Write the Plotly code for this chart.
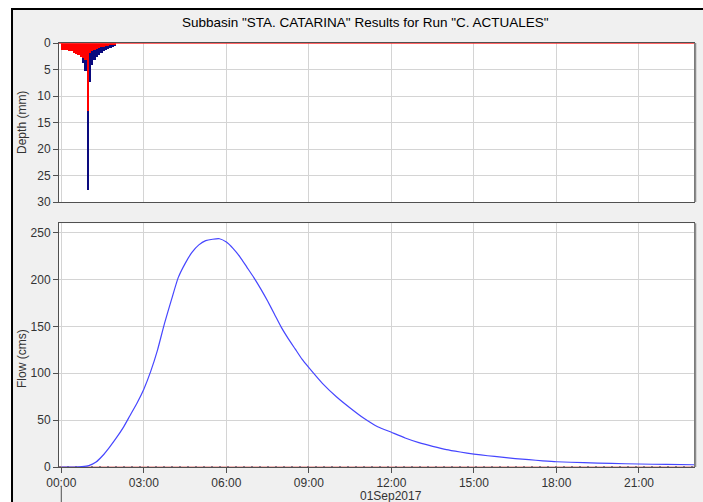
import pandas as pd
import plotly.graph_objects as go

# ---- data -----------------------------------------------------------------
# 5-minute precipitation and loss depths (mm), one value per interval from 00:00
precip_mm = [1.25, 1.3, 1.35, 1.45, 1.6, 1.8, 2.05, 2.3, 2.7, 3.7, 5.2, 27.8,
             7.3, 4.2, 3.2, 2.6, 2.2, 1.9, 1.6, 1.3, 1.1, 0.9, 0.7, 0.5]
loss_mm = [1.25, 1.3, 1.35, 1.45, 1.6, 1.8, 2.05, 2.3, 2.6, 2.9, 3.3, 12.9,
           1.8, 1.5, 1.25, 1.05, 0.9, 0.8, 0.7, 0.6, 0.5, 0.45, 0.4, 0.3]

# outflow hydrograph (cms)
flow_times = ["00:00", "00:30", "00:45", "01:00", "01:15", "01:30", "01:45", "02:00",
              "02:15", "02:30", "02:45", "03:00", "03:15", "03:30", "03:45", "04:00",
              "04:15", "04:30", "04:45", "05:00", "05:15", "05:30", "05:45", "06:00",
              "06:15", "06:30", "06:45", "07:00", "07:15", "07:30", "07:45", "08:00",
              "08:15", "08:30", "08:45", "09:00", "09:30", "10:00", "10:30", "11:00",
              "11:30", "12:00", "12:30", "13:00", "13:30", "14:00", "14:30", "15:00",
              "15:30", "16:00", "16:30", "17:00", "17:30", "18:00", "19:00", "20:00",
              "21:00", "22:00", "23:00"]
flow_cms = [0, 0, 0.4, 1.5, 5, 12, 21, 31,
            42, 55, 68, 83, 102, 125, 153, 178,
            202, 217, 229, 237, 241.5, 243, 243.5, 240,
            233, 224, 213, 202, 190, 177, 163, 149,
            137, 126, 115, 106, 89, 75, 63, 52,
            43, 37, 31, 26, 22, 18.5, 16, 13.8,
            12, 10.5, 9, 7.8, 6.6, 5.6, 4.6, 3.8,
            3.2, 2.7, 2.4]

day = "2017-09-01"
x_start = "2017-08-31 23:55"
x_end = "2017-09-01 23:00"
tick_times = ["00:00", "03:00", "06:00", "09:00", "12:00", "15:00", "18:00", "21:00"]

# ---- derived axes values --------------------------------------------------
step_ms = 5 * 60 * 1000
interval_end = pd.date_range(f"{day} 00:05", periods=len(precip_mm), freq="5min")
flow_x = [f"{day} {t}" for t in flow_times]
tick_vals = [f"{day} {t}" for t in tick_times]

FONT = "Liberation Sans, Arial, sans-serif"
GRID = "#D4D4D4"
AXIS = "#505050"

fig = go.Figure()

# precipitation (dark blue) with loss (red) drawn over it
fig.add_trace(go.Bar(x=interval_end, y=precip_mm, width=step_ms, offset=-step_ms,
                     marker=dict(color="#0A0A7E", line=dict(width=0)),
                     xaxis="x", yaxis="y", name="Precipitation"))
fig.add_trace(go.Bar(x=interval_end, y=loss_mm, width=step_ms, offset=-step_ms,
                     marker=dict(color="#FF0000", line=dict(width=0)),
                     xaxis="x", yaxis="y", name="Loss"))
fig.add_trace(go.Scatter(x=[x_start, x_end], y=[0, 0], mode="lines",
                         line=dict(color="#FF3030", width=1.5),
                         xaxis="x", yaxis="y", name="Loss line"))

# outflow
fig.add_trace(go.Scatter(x=[x_start, x_end], y=[0, 0], mode="lines",
                         line=dict(color="#E07070", width=1),
                         xaxis="x2", yaxis="y2", name="Baseflow"))
fig.add_trace(go.Scatter(x=[x_start, x_end], y=[0, 0], mode="lines",
                         line=dict(color="#303050", width=1, dash="2px,6px"),
                         xaxis="x2", yaxis="y2", name="Observed"))
fig.add_trace(go.Scatter(x=flow_x, y=flow_cms, mode="lines",
                         line=dict(color="#4646FF", width=1.2, shape="spline", smoothing=0.5),
                         xaxis="x2", yaxis="y2", name="Outflow"))

common_x = dict(type="date", range=[x_start, x_end], tickvals=tick_vals,
                tickformat="%H:%M", showgrid=True, gridcolor=GRID, gridwidth=1,
                zeroline=False, showline=True, linecolor=AXIS, linewidth=1, mirror=True)

fig.update_layout(
    width=703, height=502,
    margin=dict(l=59, r=9, t=43, b=35),
    paper_bgcolor="white",
    plot_bgcolor="white",
    showlegend=False,
    barmode="overlay",
    bargap=0,
    font=dict(family=FONT, size=12, color="#333333"),
    xaxis=dict(common_x, domain=[0, 1], anchor="y", showticklabels=False, ticks=""),
    yaxis=dict(domain=[0.625, 1], range=[30, 0], tickvals=[0, 5, 10, 15, 20, 25, 30],
               ticks="outside", ticklen=5, tickcolor=AXIS, showgrid=True, gridcolor=GRID,
               zeroline=False, showline=True, linecolor=AXIS, linewidth=1, mirror=True,
               anchor="x"),
    xaxis2=dict(common_x, domain=[0, 1], anchor="y2", matches="x",
                ticks="outside", ticklen=5, tickcolor=AXIS),
    yaxis2=dict(domain=[0, 0.5748], range=[0, 260], tickvals=[0, 50, 100, 150, 200, 250],
                ticks="outside", ticklen=5, tickcolor=AXIS, showgrid=True, gridcolor=GRID,
                zeroline=False, showline=True, linecolor=AXIS, linewidth=1, mirror=True,
                anchor="x2"),
)

# window frame and panel backgrounds
fig.add_shape(type="rect", xref="paper", yref="paper", x0=-0.074, x1=1.2, y0=-0.3, y1=1.0802,
              fillcolor="#F0F0F0", line=dict(color="black", width=2), layer="below")
fig.add_shape(type="rect", xref="paper", yref="paper", x0=0, x1=1, y0=0.625, y1=1,
              fillcolor="white", line=dict(width=0), layer="below")
fig.add_shape(type="rect", xref="paper", yref="paper", x0=0, x1=1, y0=0, y1=0.5748,
              fillcolor="white", line=dict(width=0), layer="below")
# right-hand panel shadow edges
for y0, y1 in [(0.625, 1), (0, 0.5748)]:
    fig.add_shape(type="line", xref="paper", yref="paper", x0=1.002, x1=1.002, y0=y0, y1=y1,
                  line=dict(color="#8C8C8C", width=2))
# date marker below the time axis
fig.add_shape(type="line", xref="x2", yref="paper", x0=f"{day} 00:00", x1=f"{day} 00:00",
              y0=-0.047, y1=-0.2, line=dict(color="#505050", width=1))

fig.add_annotation(text='Subbasin "STA. CATARINA" Results for Run "C. ACTUALES"',
                   xref="paper", yref="paper", x=0.4819, y=1.0495, showarrow=False,
                   xanchor="center", yanchor="middle",
                   font=dict(family=FONT, size=13.5, color="black"))
fig.add_annotation(text="Depth (mm)", xref="paper", yref="paper", x=-0.0583, y=0.8137,
                   xanchor="center", yanchor="middle",
                   textangle=-90, showarrow=False, font=dict(family=FONT, size=12, color="#333333"))
fig.add_annotation(text="Flow (cms)", xref="paper", yref="paper", x=-0.0583, y=0.257,
                   xanchor="center", yanchor="middle",
                   textangle=-90, showarrow=False, font=dict(family=FONT, size=12, color="#333333"))
fig.add_annotation(text="01Sep2017", xref="x2", yref="paper", x=f"{day} 12:00", y=-0.069,
                   xanchor="center", yanchor="middle",
                   showarrow=False, font=dict(family=FONT, size=12, color="#333333"))

fig.write_html("out.html")
